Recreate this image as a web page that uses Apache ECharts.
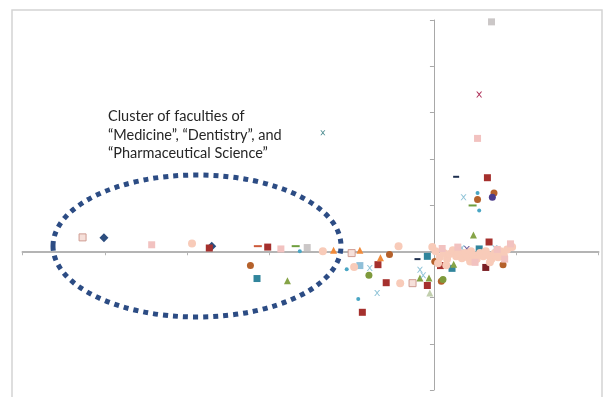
<!DOCTYPE html>
<html>
<head>
<meta charset="utf-8">
<script src="https://cdn.jsdelivr.net/npm/echarts@6/dist/echarts.min.js"></script>
<style>html,body{margin:0;padding:0;background:#fff;}#c{width:610px;height:397px;}</style>
</head>
<body>
<div id="c"></div>
<script>
// Axis ranges / ticks (no tick labels shown in the reference)
var xRange = [-5, 2];
var yRange = [-3, 5];

// Series values [x, y]
var darkBlueDiamond = [[-4.01,0.29],[-2.70,0.11]];
var darkRedSquare = [[-2.73,0.07],[-2.02,0.09],[-0.68,-0.29],[-0.58,-0.68],[-0.87,-1.32],[-0.08,-0.74],[0.08,-0.31],[0.67,0.20],[0.65,1.59]];
var maroonSquare = [[0.63,-0.35]];
var tealSquare = [[-2.15,-0.59],[-0.08,-0.11],[0.22,-0.37],[0.55,0.05]];
var lightBlueSquare = [[-0.90,-0.31]];
var brownCircle = [[-2.23,-0.31],[-0.54,-0.07],[0.09,-0.65],[0.84,-0.29],[0.80,-0.11],[0.01,-0.22],[0.53,1.12],[0.73,1.26]];
var greenTriangle = [[-1.78,-0.64],[-0.17,-0.58],[-0.06,-0.58],[0.24,-0.28],[0.48,0.35]];
var paleGreenTriangle = [[-0.05,-0.90]];
var orangeTriangle = [[-1.22,0.02],[-0.90,0.02],[-0.65,-0.14]];
var lightPinkSquare = [[-3.43,0.14],[-1.86,0.05],[0.53,2.44],[0.93,0.16],[0.10,0.06],[0.29,0.09],[0.50,-0.24],[0.77,0.04],[0.86,-0.17]];
var pinkOutlineSquare = [[-4.27,0.30],[-1.00,-0.04],[-0.26,-0.69]];
var peachCircle = [[-2.94,0.17],[-1.35,0.00],[-0.97,-0.34],[-0.43,0.11],[-0.41,-0.69],
  [0.02,0.00],[0.07,-0.13],[0.12,-0.04],[0.16,-0.17],[0.19,-0.06],[0.23,0.02],[0.27,-0.11],[0.30,-0.02],
  [0.34,-0.15],[0.38,-0.04],[0.41,-0.13],[0.45,0.00],[0.49,-0.09],[0.52,-0.17],[0.56,-0.04],[0.60,-0.11],
  [0.63,0.00],[0.67,-0.09],[0.70,-0.17],[0.74,-0.04],[0.78,-0.13],[0.81,0.00],[0.85,-0.09],[0.89,0.04],
  [0.05,-0.26],[0.15,-0.30],[0.44,-0.22],[0.68,-0.24],[-0.02,0.09],[0.95,0.09]];
var lightBlueX = [[-0.78,-0.36],[-0.69,-0.90],[-0.17,-0.40],[-0.13,-0.52],[0.34,0.07],[0.74,0.07],[0.36,1.17]];
var tealGrayX = [[-1.35,2.56]];
var crimsonX = [[0.55,3.39]];
var purpleX = [[0.40,0.05]];
var smallBlueDot = [[-1.06,-0.39],[-0.92,-1.03],[0.53,1.26],[0.55,0.88],[-1.63,0.00]];
var redDash = [[-2.14,0.11]];
var greenDash = [[-1.68,0.11],[0.47,0.99]];
var darkDash = [[0.27,1.61],[-0.20,-0.17]];
var lightGraySquare = [[0.70,4.96],[-1.54,0.08]];
var darkPurpleCircle = [[0.71,1.17]];
var greenCircle = [[-0.79,-0.52],[0.11,-0.61]];

var annotationLines = ['Cluster of faculties of', '\u201CMedicine\u201D, \u201CDentistry\u201D, and', '\u201CPharmaceutical Science\u201D'];

function s(name, data, symbol, size, color, extra) {
  var o = {name: name, type: 'scatter', data: data, symbol: symbol, symbolSize: size,
    itemStyle: {color: color, opacity: 1}, emphasis: {disabled: true}};
  if (extra) { for (var k in extra) o.itemStyle[k] = extra[k]; }
  return o;
}
var xSym = 'path://M0,0 L2,0 L5,3.5 L8,0 L10,0 L6,5 L10,10 L8,10 L5,6.5 L2,10 L0,10 L4,5 Z';

var chart = echarts.init(document.getElementById('c'), null, {renderer: 'canvas'});
chart.setOption({
  animation: false,
  backgroundColor: '#ffffff',
  grid: {left: 22.5, right: 11.5, top: 20, bottom: 7},
  xAxis: {type: 'value', min: xRange[0], max: xRange[1], interval: 1,
    axisLine: {onZero: true, lineStyle: {color: '#b4b4b4', width: 2}},
    axisTick: {show: true, length: 4, lineStyle: {color: '#b4b4b4', width: 1}},
    axisLabel: {show: false}, splitLine: {show: false}},
  yAxis: {type: 'value', min: yRange[0], max: yRange[1], interval: 1,
    axisLine: {onZero: true, lineStyle: {color: '#a8a8a8', width: 1}},
    axisTick: {show: true, length: 4, lineStyle: {color: '#a8a8a8', width: 1}},
    axisLabel: {show: false}, splitLine: {show: false}},
  graphic: [
    {type: 'rect', shape: {x: 12, y: 10, width: 590, height: 400}, style: {fill: 'none', stroke: '#d4d4d4', lineWidth: 1.5}, z: -10, silent: true},
    {type: 'ellipse', shape: {cx: 197, cy: 246, rx: 144, ry: 71}, style: {fill: 'none', stroke: '#2c4c84', lineWidth: 5, lineDash: [5, 5]}, z: 100, silent: true},
    {type: 'text', left: 108, top: 109, style: {text: annotationLines[0], font: '14.5px Lato', fill: '#262626'}, z: 100},
    {type: 'text', left: 108, top: 127.5, style: {text: annotationLines[1], font: '14.5px Lato', fill: '#262626'}, z: 100},
    {type: 'text', left: 108, top: 146, style: {text: annotationLines[2], font: '14.5px Lato', fill: '#262626'}, z: 100}
  ],
  series: [
    s('darkBlueDiamond', darkBlueDiamond, 'diamond', 9, '#2c4d7e'),
    s('darkRedSquare', darkRedSquare, 'rect', 7, '#a5302d'),
    s('maroonSquare', maroonSquare, 'rect', 7, '#7a1e24'),
    s('tealSquare', tealSquare, 'rect', 7, '#31859c'),
    s('lightBlueSquare', lightBlueSquare, 'rect', 7, '#8fbfd8'),
    s('brownCircle', brownCircle, 'circle', 7, '#b5612b'),
    s('greenTriangle', greenTriangle, 'triangle', 7, '#86a447'),
    s('paleGreenTriangle', paleGreenTriangle, 'triangle', 7, '#c2cfae'),
    s('orangeTriangle', orangeTriangle, 'triangle', 7, '#f08a3a'),
    s('lightBlueX', lightBlueX, xSym, 6, '#92c5d8'),
    s('tealGrayX', tealGrayX, xSym, 5, '#4a8a8e'),
    s('crimsonX', crimsonX, xSym, 6, '#b0345c'),
    s('purpleX', purpleX, xSym, 6, '#6a5a9c'),
    s('smallBlueDot', smallBlueDot, 'circle', 4, '#4aa6c4'),
    s('redDash', redDash, 'rect', [8, 2], '#cc5a3a'),
    s('greenDash', greenDash, 'rect', [8, 2], '#6f9e3e'),
    s('darkDash', darkDash, 'rect', [6, 2], '#1f3050'),
    s('lightGraySquare', lightGraySquare, 'rect', 7, '#cbc7c7'),
    s('darkPurpleCircle', darkPurpleCircle, 'circle', 7, '#4b3c8c'),
    s('greenCircle', greenCircle, 'circle', 7, '#7e9a3c'),
    s('peachCircle', peachCircle, 'circle', 8, '#f8cbb9'),
    s('lightPinkSquare', lightPinkSquare, 'rect', 7, '#f2c2c0'),
    s('pinkOutlineSquare', pinkOutlineSquare, 'rect', 7, '#f6e0da', {borderColor: '#cf9c92', borderWidth: 1})
  ]
});
</script>
</body>
</html>
